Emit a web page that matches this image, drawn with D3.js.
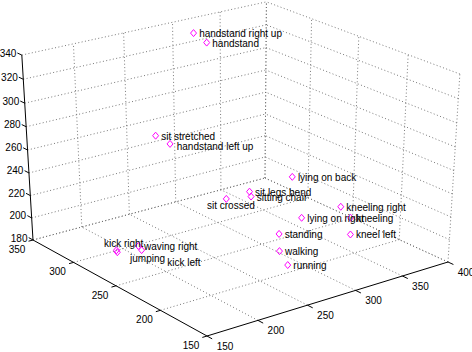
<!DOCTYPE html>
<html><head><meta charset="utf-8">
<script src="https://cdn.jsdelivr.net/npm/d3@7"></script>
<style>
body{margin:0;background:#fff}
svg{display:block}
text{font-family:"Liberation Sans",Arial,Helvetica,sans-serif;font-size:10px;fill:#000}
</style>
</head><body>
<svg id="chart" width="472" height="352"></svg>
<script>
// ---------------- data ----------------
const labels = ["handstand right up","handstand","sit stretched","handstand left up","lying on back",
  "sit legs bend","sitting chair","sit crossed","kneeling right","lying on right","kneeling",
  "standing","kneel left","walking","running","kick right","jumping","waving right","kick left"];
const xValues = [300,297,239,204,337,303,297,285,359,349,366,295,358,272,259,180,185,186,190];
const yValues = [326,308,303,247,255,267,259,274,224,256,220,226,212,202,180,284,289,265,266];
const zValues = [338,336,270,290,230,220,220,215,210,190,200,200,190,200,200,190,185,200,195];
const xTicks = [150,200,250,300,350,400];
const yTicks = [150,200,250,300,350];
const zTicks = [180,200,220,240,260,280,300,320,340];

// ---------------- layout / style ----------------
// perspective camera (homogeneous 3x4 matrix acting on normalised box coords u,v,w in [0,1])
const camera = {
  sx: [273.3, -170.84, -13.5, 207],
  sy: [-55.1, -73.03, -205.8, 336],
  h:  [0.0721, 0.0957, -0.057, 1]
};
// label placement tweaks (pixels, relative to marker) – default is right of the marker
const labelShift = {
  "sit crossed": [-19.3, 7],
  "handstand left up": [6.7, 3],
  "kick right": [-12.5, -7],
  "jumping": [12.7, 6.5],
  "kick left": [25.6, 12.3]
};
const defaultShift = [5.6, 0.5];
const gridStyle = {stroke:"#6a6a6a", width:0.9, dash:"1,2.4"};
const markerColor = "#ff00ff";

// ---------------- scales & projection ----------------
const xs = d3.scaleLinear().domain([150,400]).range([0,1]);
const ys = d3.scaleLinear().domain([150,350]).range([0,1]);
const zs = d3.scaleLinear().domain([180,340]).range([0,1]);

function proj(u,v,w){
  const p=[u,v,w,1];
  const dot=a=>a[0]*p[0]+a[1]*p[1]+a[2]*p[2]+a[3]*p[3];
  const h=dot(camera.h);
  return [dot(camera.sx)/h, dot(camera.sy)/h];
}

const svg = d3.select("#chart");
const gGrid = svg.append("g");
const gAxis = svg.append("g");
const gMarks = svg.append("g");

function seg(g, a, b, style){
  const p=proj(...a), q=proj(...b);
  const l=g.append("line").attr("x1",p[0]).attr("y1",p[1]).attr("x2",q[0]).attr("y2",q[1]);
  if(style==="grid"){
    l.attr("stroke",gridStyle.stroke).attr("stroke-width",gridStyle.width).attr("stroke-dasharray",gridStyle.dash);
  } else {
    l.attr("stroke","#000").attr("stroke-width",1);
  }
}

// grid: back wall at y max (v=1)
xTicks.forEach(t=>{ const u=xs(t); if(u>0) seg(gGrid,[u,1,0],[u,1,1],"grid"); });
zTicks.forEach(t=>{ const w=zs(t); seg(gGrid,[0,1,w],[1,1,w],"grid"); });
// grid: back wall at x max (u=1)
yTicks.forEach(t=>{ const v=ys(t); seg(gGrid,[1,v,0],[1,v,1],"grid"); });
zTicks.forEach(t=>{ const w=zs(t); seg(gGrid,[1,0,w],[1,1,w],"grid"); });
// grid: floor (w=0)
xTicks.forEach(t=>{ const u=xs(t); if(u>0) seg(gGrid,[u,0,0],[u,1,0],"grid"); });
yTicks.forEach(t=>{ const v=ys(t); if(v>0) seg(gGrid,[0,v,0],[1,v,0],"grid"); });

// axes lines
seg(gAxis,[0,0,0],[1,0,0],"axis");
seg(gAxis,[0,0,0],[0,1,0],"axis");
seg(gAxis,[0,1,0],[0,1,1],"axis");

// ticks + labels
xTicks.forEach(t=>{
  const u=xs(t);
  seg(gAxis,[u,0,0],[u,-0.027,0],"axis");
  const p=proj(u,0,0);
  gAxis.append("text").attr("x",p[0]+18).attr("y",p[1]+10).attr("dy","0.35em")
    .attr("text-anchor","middle").text(t);
});
yTicks.forEach(t=>{
  const v=ys(t);
  seg(gAxis,[0,v,0],[-0.018,v,0],"axis");
  const p=proj(0,v,0);
  gAxis.append("text").attr("x",p[0]-16).attr("y",p[1]+9.5).attr("dy","0.35em")
    .attr("text-anchor","middle").text(t);
});
zTicks.forEach(t=>{
  const w=zs(t);
  seg(gAxis,[0,1,w],[0,1.027,w],"axis");
  const p=proj(0,1,w);
  gAxis.append("text").attr("x",p[0]-5.5).attr("y",p[1]-2).attr("dy","0.35em")
    .attr("text-anchor","end").text(t);
});

// data points
const pts = labels.map((name,i)=>{
  const p=proj(xs(xValues[i]), ys(yValues[i]), zs(zValues[i]));
  return {name, px:p[0], py:p[1]};
});
gMarks.selectAll("path.mk").data(pts).join("path").attr("class","mk")
  .attr("d",d=>`M${d.px},${d.py-3.5}L${d.px+3},${d.py}L${d.px},${d.py+3.5}L${d.px-3},${d.py}Z`)
  .attr("fill","none").attr("stroke",markerColor).attr("stroke-width",1);
gMarks.selectAll("text.lb").data(pts).join("text").attr("class","lb")
  .attr("x",d=>d.px+(labelShift[d.name]||defaultShift)[0])
  .attr("y",d=>d.py+(labelShift[d.name]||defaultShift)[1])
  .attr("dy","0.35em")
  .text(d=>d.name);
</script>
</body></html>
